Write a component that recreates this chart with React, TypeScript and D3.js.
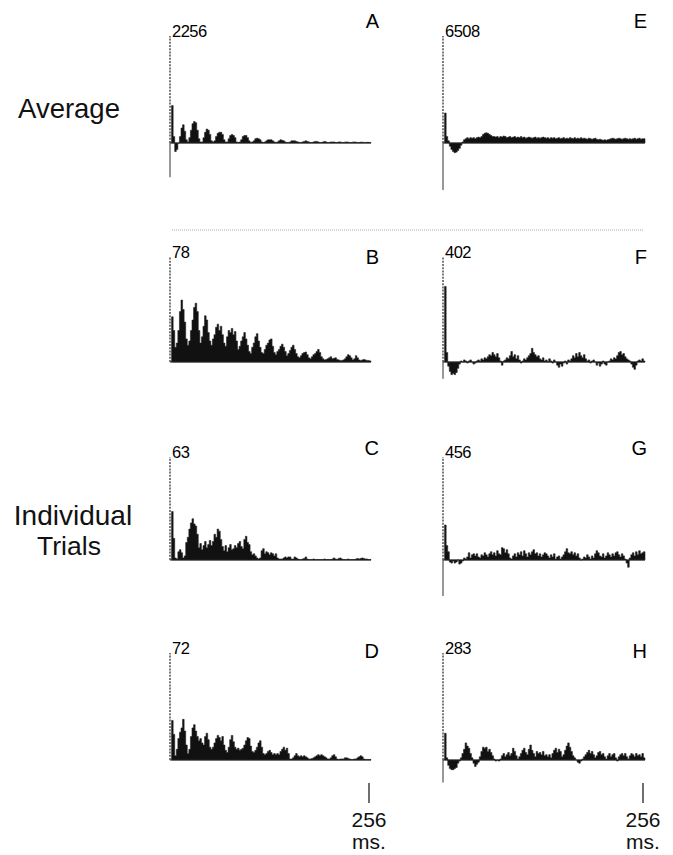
import React, { useEffect, useRef } from 'react';
import * as d3 from 'd3';

// autocorrelograms, 2 ms bins over 0-256 ms, values in % of the zero-lag peak
const binMs = 2;
const spanMs = 256;

const panelA = [
  100, 35, 6, -8, -6, 0, 6, 14, 17, 11, 3, 1, 5, 12, 18, 20,
  19, 12, 4, 1, 1, 5, 10, 13, 12, 8, 2, 1, 2, 6, 9, 10,
  10, 8, 3, 1, 1, 4, 7, 8, 7, 5, 1, 0.5, 1, 3, 6, 7,
  7, 5, 2, 0.5, 1, 2, 4, 4.5, 4, 3, 1, 0.5, 1, 2, 3, 3,
  3, 2, 1, 0.5, 1, 2, 3, 2.5, 2, 1, 0.5, 0.5, 1, 2, 2, 2,
  1.5, 1, 0.5, 0.5, 1, 1.5, 2, 1.5, 1, 0.5, 0.5, 1, 1.5, 1.5, 1, 0.5,
  0.5, 1, 1.5, 1, 0.5, 0.5, 1, 1, 1, 0.5, 0.5, 1, 1, 0.5, 0.5, 0.8,
  1, 0.8, 0.5, 0.5, 0.8, 1, 0.7, 0.5, 0.5, 0.8, 0.8, 0.5, 0.5, 0.6, 0.6, 0.5,
];

const panelB = [
  100, 43, 30, 14, 18, 30, 48, 59, 50, 38, 22, 16, 20, 30, 40, 52,
  56, 48, 30, 18, 24, 34, 44, 40, 28, 20, 16, 22, 26, 33, 36, 30,
  34, 26, 18, 15, 24, 30, 28, 32, 26, 29, 20, 12, 15, 20, 24, 28,
  22, 16, 10, 8, 14, 18, 24, 27, 20, 14, 9, 8, 12, 16, 18, 21,
  22, 15, 9, 7, 10, 12, 15, 17, 14, 10, 6, 8, 11, 14, 16, 12,
  8, 5, 4, 6, 8, 9, 9.5, 7, 4, 3, 5, 7, 8, 10, 12, 9,
  5, 3, 2, 2.5, 3, 4, 5, 3, 3.5, 4, 2.5, 2, 1.5, 1.5, 2, 3,
  5, 7, 6, 4, 2, 3, 6, 4, 2, 1.5, 2, 2.5, 2, 1.5, 1.5, 1,
];

const panelC = [
  100, 47, 21, 2, 1, 8, 10, 7, 2, 4, 17, 22, 30, 36, 40, 35,
  33, 25, 12, 16, 10, 14, 18, 12, 15, 19, 14, 18, 25, 22, 30, 28,
  20, 13, 9, 14, 8, 12, 15, 10, 11, 14, 12, 16, 18, 13, 11, 20,
  23, 17, 15, 8, 5, 6, 4, 2, 1, 2, 9, 11, 6, 8, 7, 5,
  7, 6, 4, 6, 2, 1, 1, 1, 2, 3, 2, 3, 3, 1, 1, 3,
  2, 1, 0.5, 0.5, 1, 1.5, 3, 1, 0.5, 0.5, 0.5, 1, 0.5, 0.5, 0.5, 0.5,
  0.5, 0.5, 1, 0.5, 0.5, 0.5, 0.5, 1, 2, 1, 0.5, 1.5, 2, 1, 0.5, 0.5,
  0.5, 1, 0.5, 0.5, 0.5, 0.5, 1, 1.5, 1, 1.5, 2, 1.5, 1, 1, 0.5, 0.5,
];

const panelD = [
  100, 37, 24, 4, 10, 20, 26, 30, 38, 27, 14, 6, 10, 22, 30, 33,
  27, 22, 18, 20, 16, 14, 22, 25, 19, 12, 10, 12, 16, 20, 23, 21,
  18, 22, 14, 9, 7, 12, 19, 23, 17, 12, 10, 11, 9, 10, 11, 14,
  18, 21, 20, 13, 8, 7, 9, 12, 16, 18, 12, 6, 5, 6, 8, 9,
  7, 5, 6, 5, 6, 5, 8, 10, 12, 9, 11, 6, 1, 1, 2, 4,
  6, 4, 3, 4, 3, 4, 3, 2, 1, 1, 1.5, 2, 3, 4, 5, 4,
  5, 4, 3, 2, 1, 1, 2, 4, 5, 3, 1, 0.5, 1, 1, 1, 2,
  2, 1.5, 1, 0.5, 0.5, 1, 1, 2, 3, 4, 3, 1, 0.5, 0.5, 0.5, 0.5,
];

const panelE = [
  100, 28, 6, 2, -3, -6, -8, -9, -8.5, -7, -5, -2, 1, 3, 4, 5,
  4, 5, 4.5, 5, 4, 5, 5.5, 5, 6, 8, 9, 9.5, 9, 8, 7, 6,
  6, 5.5, 6, 5, 6, 5.5, 6.5, 6, 5, 5.5, 6, 5, 5.5, 6, 5, 5.5,
  5, 6, 5, 5.5, 4.5, 5, 5.5, 5, 4.5, 5, 5.5, 4.5, 5, 4.5, 5, 5.5,
  5, 4.5, 5, 4, 5, 4.5, 5, 4, 4.5, 5, 4, 4.5, 5, 4, 4.5, 4,
  5, 4.5, 4, 5, 4, 4.5, 4, 5, 4, 4.5, 4, 3.5, 4.5, 4, 3.5, 4,
  4.5, 3.5, 3, 3.5, 3, 2.5, 3, 2.5, 3, 3.5, 4, 4.5, 4, 3.5, 4, 4.5,
  4, 3.5, 4, 4.5, 4, 3.5, 4, 3.5, 4, 4.5, 3.5, 4, 4.5, 3.5, 4, 4,
];

const panelF = [
  100, 72, 9, -4, -9, -12, -11, -12, -10, -6, -2, 1, 0, 2, 1, -1,
  1, 2, 0, -2, -1, 1, 2, 1, 3, 2, 4, 3, 5, 7, 6, 9,
  7, 5, 8, 4, 1, -3, 1, 2, 4, 3, 6, 10, 5, 7, 3, 6,
  2, -1, 1, 3, 2, 4, 6, 8, 13, 9, 7, 5, 6, 3, 2, 4,
  1, 2, 0, 3, 1, -1, 2, 0, -3, -5, -2, -4, -1, 1, -2, 2,
  1, 3, 6, 4, 8, 5, 9, 6, 4, 7, 3, 1, 2, -1, 1, 2,
  0, -3, -1, -4, -2, 1, -2, -3, 0, 1, 3, 2, 4, 3, 6, 9,
  10, 7, 8, 5, 3, 2, 1, -2, -5, -7, -3, 1, 2, 1, 3, 1,
];

const panelG = [
  100, 34, 14, 8, -2, -3, -1, -3, -2, 0, -4, -3, -1, 2, 1, 3,
  7, 2, 5, 6, 4, 6, 3, 2, 5, 4, 7, 5, 3, 6, 8, 5,
  7, 4, 9, 6, 5, 12, 11, 7, 10, 6, 2, 1, 4, 6, 3, 7,
  5, 8, 4, 9, 6, 3, 7, 5, 8, 10, 6, 7, 4, 6, 3, 5,
  7, 6, 4, 2, 5, 3, 6, 1, 3, 4, 1, 3, 5, 8, 11, 7,
  6, 8, 5, 7, 4, 6, 2, 0, 1, 3, 2, 5, 3, 1, 4, 2,
  6, 9, 7, 4, 3, 6, 2, 4, 7, 5, 3, 6, 4, 7, 8, 5,
  3, 6, 4, 1, -3, -7, 2, 5, 7, 4, 8, 5, 9, 6, 7, 8,
];

const panelH = [
  100, 25, 2, -5, -8, -9, -9, -8, -7, -3, -1, 2, 6, 10, 16, 13,
  11, 6, 2, -3, -6, -4, -2, 3, 8, 12, 11, 12, 8, 10, 7, 4,
  1, -1, 0, -1, 1, 4, 6, 3, 5, 7, 4, 6, 11, 8, 4, 1,
  3, 6, 9, 11, 7, 5, 10, 14, 9, 6, 3, 8, 6, 7, 5, 8,
  4, 5, 3, 5, 2, 6, 9, 11, 7, 10, 8, 3, 5, 9, 13, 16,
  12, 8, 4, 2, 0, -2, -3, -1, 1, 3, 5, 7, 9, 6, 8, 5,
  2, 4, 7, 8, 5, 6, 3, 1, 4, 6, 3, 5, 6, 2, -1, 3,
  5, 6, 4, 6, 3, 1, 4, 6, 5, 3, 6, 4, 5, 3, 6, 2,
];

const panelSeries = [panelA, panelB, panelC, panelD, panelE, panelF, panelG, panelH];
const panelLetters = ['A', 'B', 'C', 'D', 'E', 'F', 'G', 'H'];
const peakCounts = ['2256', '78', '63', '72', '6508', '402', '456', '283'];
// how far the ordinate line runs below zero, in the same % units
const axisFloor = [-32, 0, 0, 0, -44, -16, -35, -21];

// layout
const W = 673;
const H = 855;
const colX = [[170, 371], [443, 645]];
const rowBase = [143, 362, 560, 760];
const rowTop = [36, 257, 457, 653];
const rowLetterY = [28, 264, 455, 658];
const font = 'Liberation Sans, Arial, Helvetica, sans-serif';

function App() {
  const ref = useRef<SVGSVGElement | null>(null);

  useEffect(() => {
    const svg = d3.select(ref.current);
    svg.selectAll('*').remove();
    svg.append('rect').attr('width', W).attr('height', H).attr('fill', '#fff');

    panelSeries.forEach((vals, idx) => {
      const col = Math.floor(idx / 4);
      const row = idx % 4;
      const x = d3.scaleLinear().domain([0, spanMs]).range(colX[col]);
      const yMin = Math.min(axisFloor[idx], d3.min(vals) as number);
      const y = d3.scaleLinear()
        .domain([0, 100])
        .range([rowBase[row], rowTop[row]]);
      const g = svg.append('g');

      const pts = vals.slice(1).map((v, i) => ({ t: (i + 1) * binMs, v }));
      pts.push({ t: spanMs, v: vals[vals.length - 1] });
      const area = d3.area<{ t: number; v: number }>()
        .x(d => x(d.t))
        .y0(y(0))
        .y1(d => y(d.v))
        .curve(d3.curveStepAfter);
      g.append('path')
        .attr('d', area(pts) as string)
        .attr('fill', '#111')
        .attr('stroke', '#222')
        .attr('stroke-width', 0.6);

      // baseline
      g.append('line')
        .attr('x1', x(0)).attr('x2', x(spanMs))
        .attr('y1', y(0)).attr('y2', y(0))
        .attr('stroke', '#222').attr('stroke-width', 1.2);

      // zero-lag bin, drawn as the dotted ordinate
      g.append('line')
        .attr('x1', x(0)).attr('x2', x(0))
        .attr('y1', y(0)).attr('y2', y(vals[0]))
        .attr('stroke', '#444').attr('stroke-width', 1.4)
        .attr('stroke-dasharray', '2,1.2');

      if (yMin < 0) {
        g.append('line')
          .attr('x1', x(0)).attr('x2', x(0))
          .attr('y1', y(0)).attr('y2', y(yMin))
          .attr('stroke', '#333').attr('stroke-width', 1);
      }

      g.append('text')
        .attr('x', x(0) + 2)
        .attr('y', y(100) + 0.5)
        .attr('font-family', font)
        .attr('font-size', 16.5)
        .attr('letter-spacing', -0.5)
        .attr('fill', '#000')
        .text(peakCounts[idx]);

      g.append('text')
        .attr('x', col === 0 ? x(spanMs) + 8 : x(spanMs) + 2)
        .attr('y', rowLetterY[row])
        .attr('text-anchor', 'end')
        .attr('font-family', font)
        .attr('font-size', 20)
        .attr('fill', '#000')
        .text(panelLetters[idx]);

      // 256 ms marker under the last row
      if (row === 3) {
        const tx = x(spanMs) - 2;
        g.append('line')
          .attr('x1', tx).attr('x2', tx)
          .attr('y1', 783).attr('y2', 803)
          .attr('stroke', '#222').attr('stroke-width', 1.3);
        g.append('text')
          .attr('x', tx).attr('y', 827)
          .attr('text-anchor', 'middle')
          .attr('font-family', font).attr('font-size', 21)
          .attr('fill', '#111')
          .text(String(spanMs));
        g.append('text')
          .attr('x', tx).attr('y', 849)
          .attr('text-anchor', 'middle')
          .attr('font-family', font).attr('font-size', 21)
          .attr('fill', '#111')
          .text('ms.');
      }
    });

    // dotted separator between average and single trials
    svg.append('line')
      .attr('x1', 172).attr('x2', 643)
      .attr('y1', 230).attr('y2', 230)
      .attr('stroke', '#aaa').attr('stroke-width', 1)
      .attr('stroke-dasharray', '1,1');

    const side = [
      { text: 'Average', x: 69, y: 118, size: 27.5 },
      { text: 'Individual', x: 73, y: 525, size: 28 },
      { text: 'Trials', x: 69, y: 555, size: 26.5 },
    ];
    svg.selectAll('text.side')
      .data(side)
      .enter()
      .append('text')
      .attr('class', 'side')
      .attr('x', d => d.x)
      .attr('y', d => d.y)
      .attr('text-anchor', 'middle')
      .attr('font-family', font)
      .attr('font-size', d => d.size)
      .attr('fill', '#111')
      .text(d => d.text);
  }, []);

  return (
    <svg
      ref={ref}
      width={W}
      height={H}
      style={{ position: 'absolute', left: 0, top: 0 }}
    />
  );
}

export default App;
